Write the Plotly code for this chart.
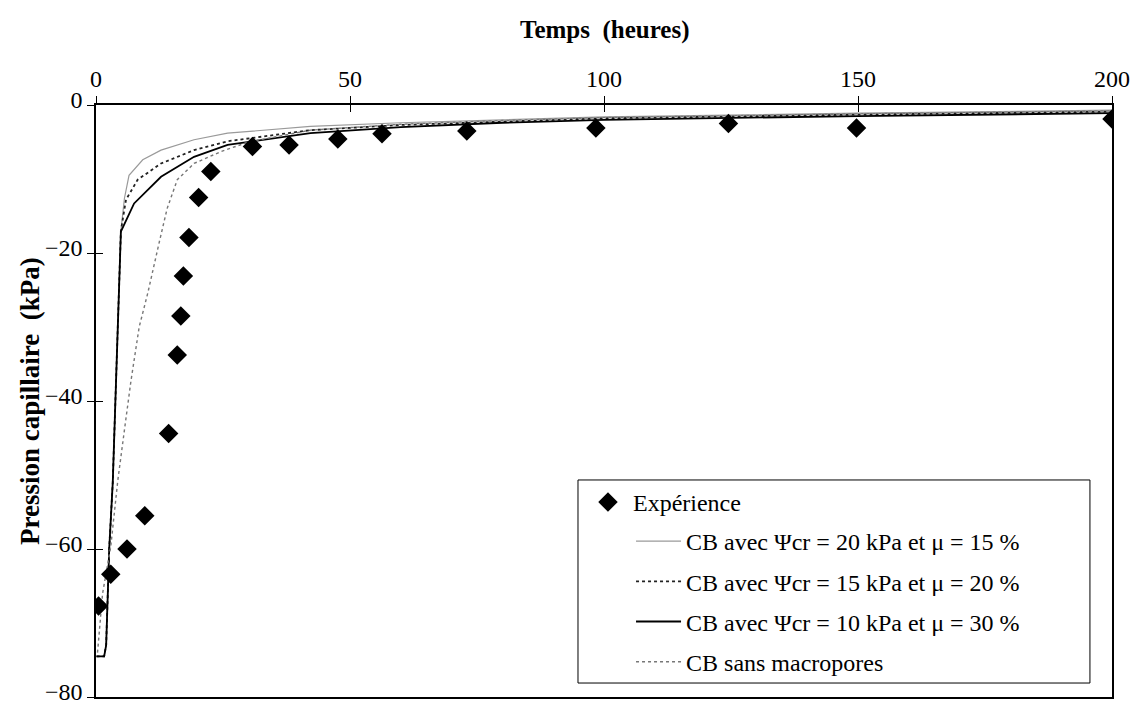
import plotly.graph_objects as go

# Experimental data
exp_t = [0.5, 2.9, 6.1, 9.6, 14.3, 16.0, 16.7, 17.2, 18.3, 20.2, 22.6, 30.8, 38.0, 47.6, 56.3, 73.0, 98.4, 124.5, 149.7, 200.0]
exp_p = [-67.7, -63.4, -60.0, -55.5, -44.4, -33.8, -28.5, -23.1, -17.9, -12.5, -9.0, -5.6, -5.4, -4.6, -3.9, -3.5, -3.1, -2.5, -3.1, -1.9]

# CB avec Psi_cr = 20 kPa, mu = 15 %
a_t = [0.1, 1.6, 2.0, 2.6, 3.3, 3.9, 4.6, 4.9, 5.6, 6.5, 9.2, 12.8, 19.3, 25.9, 42.2, 60, 80, 100, 150, 200]
a_p = [-74.5, -74.5, -73.0, -60.0, -51.0, -37.0, -24.0, -17.0, -12.6, -9.5, -7.4, -6.1, -4.7, -3.8, -2.9, -2.4, -2.0, -1.6, -1.1, -0.7]

# CB avec Psi_cr = 15 kPa, mu = 20 %
b_t = [0.1, 1.6, 2.0, 2.6, 3.3, 3.9, 4.6, 4.9, 5.9, 8.2, 12.8, 19.3, 25.9, 42.2, 60, 80, 100, 150, 200]
b_p = [-74.5, -74.5, -73.0, -60.0, -51.0, -37.0, -24.0, -17.0, -12.8, -10.1, -7.9, -6.1, -4.9, -3.4, -2.7, -2.2, -1.8, -1.3, -0.9]

# CB avec Psi_cr = 10 kPa, mu = 30 %
c_t = [0.1, 1.6, 2.0, 2.6, 3.3, 3.9, 4.6, 4.9, 7.5, 12.8, 19.3, 25.9, 42.2, 60, 80, 100, 150, 200]
c_p = [-74.5, -74.5, -73.0, -60.0, -51.0, -37.0, -24.0, -17.1, -13.3, -9.7, -7.0, -5.4, -3.8, -3.0, -2.4, -2.0, -1.5, -1.1]

# CB sans macropores
d_t = [0.3, 0.65, 1.3, 2.9, 4.3, 5.6, 6.9, 8.5, 10.2, 12.4, 14.0, 16.0, 19.3, 24.6, 30, 42.2, 60, 80, 100, 150, 200]
d_p = [-74.0, -71.5, -66.0, -59.7, -50.7, -43.9, -37.2, -30.0, -25.4, -18.7, -14.0, -10.1, -7.9, -6.3, -5.0, -3.4, -2.6, -2.1, -1.7, -1.2, -0.8]

x_ticks = [0, 50, 100, 150, 200]
y_ticks = [-80, -60, -40, -20, 0]

names = [
    "Expérience",
    "CB avec Ψcr = 20 kPa et μ = 15 %",
    "CB avec Ψcr = 15 kPa et μ = 20 %",
    "CB avec Ψcr = 10 kPa et μ = 30 %",
    "CB sans macropores",
]

FONT = "Liberation Serif"
FS = 24

fig = go.Figure()
fig.add_trace(go.Scatter(x=a_t, y=a_p, mode="lines", name=names[1], legendgroup="a", legendrank=2,
                         line=dict(color="#9a9a9a", width=1.2)))
fig.add_trace(go.Scatter(x=b_t, y=b_p, mode="lines", name=names[2], legendgroup="b", legendrank=3,
                         line=dict(color="#222222", width=1.8, dash="dot")))
fig.add_trace(go.Scatter(x=c_t, y=c_p, mode="lines", name=names[3], legendgroup="c", legendrank=4,
                         line=dict(color="black", width=1.8)))
fig.add_trace(go.Scatter(x=d_t, y=d_p, mode="lines", name=names[4], legendgroup="d", legendrank=5,
                         line=dict(color="#777777", width=1.4, dash="dot")))
fig.add_trace(go.Scatter(x=exp_t, y=exp_p, mode="markers", name=names[0], legend="legend2",
                         marker=dict(symbol="diamond", size=15, color="black")))

# page has an 8px body margin: figure is shrunk so the plot lands where the reference has it
fig.update_layout(
    width=1131, height=697,
    paper_bgcolor="white", plot_bgcolor="white",
    margin=dict(l=88, r=27, t=97, b=8),
    font=dict(family=FONT, size=FS, color="black"),
    showlegend=True,
    legend=dict(x=0.5266, y=0.3007, xanchor="left", yanchor="top", tracegroupgap=6,
                borderwidth=0, bgcolor="rgba(0,0,0,0)",
                font=dict(family=FONT, size=FS), itemwidth=45),
    legend2=dict(x=0.4793, y=0.3666, xanchor="left", yanchor="top",
                 borderwidth=0, bgcolor="rgba(0,0,0,0)",
                 font=dict(family=FONT, size=FS), itemwidth=40),
    xaxis=dict(range=[0, 200], side="top", tickvals=x_ticks, ticks="outside", ticklen=7,
               tickcolor="black", showline=True, linecolor="black", linewidth=1.5, mirror=True,
               showgrid=False, zeroline=False, tickfont=dict(family=FONT, size=FS),
               ticklabeloverflow="allow", automargin=False),
    yaxis=dict(range=[-80, 0], tickvals=y_ticks, ticks="outside", ticklen=7,
               tickcolor="black", showline=True, linecolor="black", linewidth=1.5, mirror=True,
               showgrid=False, zeroline=False, tickfont=dict(family=FONT, size=FS),
               ticklabeloverflow="allow", automargin=False, ticklabelshift=-5),
    xaxis2=dict(range=[0, 200], overlaying="x", side="top", tickvals=x_ticks, ticks="inside",
                ticklen=7, tickcolor="black", showticklabels=False, showgrid=False, zeroline=False,
                automargin=False),
    yaxis2=dict(range=[-80, 0], overlaying="y", side="left", tickvals=y_ticks, ticks="inside",
                ticklen=7, tickcolor="black", showticklabels=False, showgrid=False, zeroline=False,
                automargin=False),
)
# invisible trace to activate the secondary axes (inner half of crossing ticks)
fig.add_trace(go.Scatter(x=[None], y=[None], xaxis="x2", yaxis="y2", showlegend=False, hoverinfo="skip"))

# legend frame
fig.add_shape(type="rect", xref="paper", yref="paper", x0=0.4744, x1=0.9783, y0=0.0236, y1=0.3666,
              line=dict(color="black", width=1), fillcolor="white", layer="above")

fig.add_annotation(text="<b>Temps  (heures)</b>", xref="paper", yref="paper", x=0.5, y=1.0,
                   yshift=75, showarrow=False, font=dict(family=FONT, size=25), yanchor="middle")
fig.add_annotation(text="<b>Pression capillaire  (kPa)</b>", xref="paper", yref="paper",
                   x=0, xshift=-66, y=0.5, textangle=-90, showarrow=False,
                   font=dict(family=FONT, size=27), xanchor="center", yanchor="middle")

fig.write_html("out.html")
